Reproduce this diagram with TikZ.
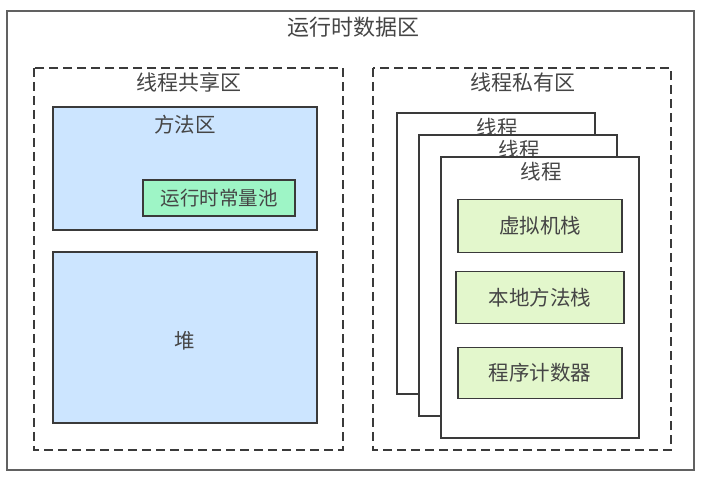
\documentclass[tikz,border=0pt]{standalone}
\usepackage{fontspec}
\setmainfont{Noto Sans CJK SC}
\usepackage{xcolor,tikz}
\usetikzlibrary{positioning,calc}
\definecolor{rtLine}{HTML}{3A3A3A}
\definecolor{rtText}{HTML}{454545}
\definecolor{shareBlue}{HTML}{CCE5FF}
\definecolor{poolMint}{HTML}{9EF5C6}
\definecolor{stackLime}{HTML}{E3F7CC}

\tikzset{
  areabox/.style={draw=rtLine, line width=1.4pt, inner sep=0pt},
  dashbox/.style={draw=rtLine, line width=1.4pt, dash pattern=on 9pt off 5pt},
  bluebox/.style={areabox, fill=shareBlue},
  poolbox/.style={areabox, fill=poolMint},
  stackbox/.style={areabox, fill=stackLime},
  threadbox/.style={areabox, fill=white},
  lbl/.style={inner sep=0pt, text=rtText, font=\fontsize{20.5}{24}\selectfont}
}

\begin{document}
\begin{tikzpicture}[x=1pt,y=-1pt]

\useasboundingbox (0,0) rectangle (702,478);

% --- RUNTIME DATA AREA ---
\draw[draw=rtLine!80, line width=1.4pt] (7,11) rectangle (694,470);
\node[lbl, font=\fontsize{22}{26}\selectfont] (rtTitle) at (353,27) {运行时数据区};

% --- SHARED AREA ---
\draw[dashbox] (34,68) rectangle (343,450);
\node[lbl, font=\fontsize{21}{25}\selectfont] (sharedTitle) at (189,82) {线程共享区};

\node[bluebox, minimum width=264pt, minimum height=123pt] (method) at (185,168.5) {};
\node[lbl] (methodTitle) at (185,125) {方法区};
\node[poolbox, minimum width=152pt, minimum height=36pt, lbl, font=\fontsize{19.5}{23}\selectfont] (pool) at (219,198) {运行时常量池};

\node[bluebox, minimum width=264pt, minimum height=171pt] (heap) at (185,337.5) {};
\node[lbl] (heapTitle) at (185,341) {堆};

% --- PRIVATE AREA ---
\draw[dashbox] (373,68) rectangle (671,450);
\node[lbl, font=\fontsize{21}{25}\selectfont] (privateTitle) at (523,82) {线程私有区};

% stacked thread frames, each one shifted right/down
\foreach \k in {1,2,3} {
  \pgfmathsetmacro\tx{496 + (\k - 1) * 22}
  \pgfmathsetmacro\ty{253.5 + (\k - 1) * 22}
  \node[threadbox, minimum width=198pt, minimum height=281pt] (thread\k) at (\tx,\ty) {};
  \node[lbl] (thread\k title) at (\tx + 1,\ty - 126) {线程};
}

\node[stackbox, minimum width=164pt, minimum height=53pt, lbl] (vmStack) at (540,226) {虚拟机栈};
\node[stackbox, minimum width=168pt, minimum height=52pt, lbl] (nativeStack) at (540,297.5) {本地方法栈};
\node[stackbox, minimum width=164pt, minimum height=51pt, lbl] (pcReg) at (540,373) {程序计数器};

\end{tikzpicture}
\end{document}
